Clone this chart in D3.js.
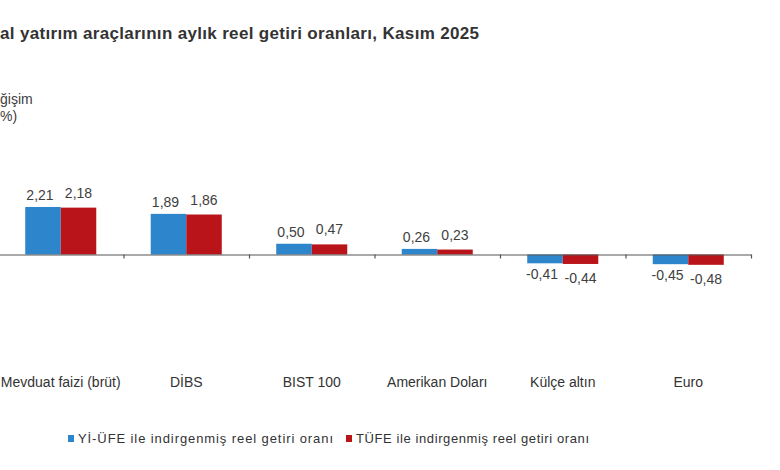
<!DOCTYPE html>
<html>
<head>
<meta charset="utf-8">
<script src="https://cdn.jsdelivr.net/npm/d3@7"></script>
<style>
  body { margin: 0; background: #fff; }
  svg { display: block; font-family: "Liberation Sans", Arial, sans-serif; }
</style>
</head>
<body>
<svg id="chart" width="780" height="470"></svg>
<script>
// data
const categories = ["Mevduat faizi (brüt)", "DİBS", "BIST 100", "Amerikan Doları", "Külçe altın", "Euro"];
const yiufe = [2.21, 1.89, 0.50, 0.26, -0.41, -0.45];
const tufe = [2.18, 1.86, 0.47, 0.23, -0.44, -0.48];
const seriesNames = ["Yİ-ÜFE ile indirgenmiş reel getiri oranı", "TÜFE ile indirgenmiş reel getiri oranı"];
const seriesColors = ["#2d86cc", "#b81419"];

const svg = d3.select("#chart");

// title, only the part that shows in the picture
svg.append("text")
    .attr("x", 0).attr("y", 39)
    .attr("font-size", 17).attr("font-weight", "bold")
    .attr("fill", "#333")
    .attr("textLength", 479)
    .text("al yatırım araçlarının aylık reel getiri oranları, Kasım 2025");

// y label (cut at the left edge too)
svg.append("text")
    .attr("x", 0).attr("y", 104)
    .attr("font-size", 14).attr("fill", "#404040")
    .text("ğişim");
svg.append("text")
    .attr("x", 0).attr("y", 121)
    .attr("font-size", 14).attr("fill", "#404040")
    .text("%)");

// scales
let x0 = d3.scaleBand()
    .domain(categories)
    .range([-2, 751])
    .paddingInner(0.434)
    .paddingOuter(0.217);

let x1 = d3.scaleBand()
    .domain([0, 1])
    .range([0, x0.bandwidth()]);

let y = d3.scaleLinear()
    .domain([-1, 2.5])
    .range([276, 200.75]);

let rows = categories.map((c, i) => ({cat: c, vals: [yiufe[i], tufe[i]]}));

// bars
let groups = svg.append("g").selectAll("g")
    .data(rows)
    .join("g")
    .attr("transform", d => `translate(${x0(d.cat)},0)`);

groups.selectAll("rect")
    .data(d => d.vals.map((v, k) => ({v: v, k: k})))
    .join("rect")
    .attr("x", d => x1(d.k))
    .attr("width", x1.bandwidth())
    .attr("y", d => y(Math.max(0, d.v)))
    .attr("height", d => Math.abs(y(d.v) - y(0)))
    .attr("fill", d => seriesColors[d.k]);

// value labels
const fmt = v => d3.format(".2f")(v).replace(".", ",").replace("−", "-");
groups.selectAll("text")
    .data(d => d.vals.map((v, k) => ({v: v, k: k})))
    .join("text")
    .attr("x", d => x1(d.k) + x1.bandwidth() / 2 + (d.k == 0 ? -3 : 0))
    .attr("y", d => d.v >= 0 ? y(d.v) - (d.k == 0 ? 7 : 10) : y(d.v) + (d.k == 0 ? 16 : 19))
    .attr("text-anchor", "middle")
    .attr("font-size", 14)
    .attr("fill", "#404040")
    .text(d => fmt(d.v));

// x axis: zero line with ticks between categories
let axis = d3.axisBottom(d3.scaleLinear().domain([0, 6]).range([-2, 751]))
    .tickValues(d3.range(1, 7))
    .tickSize(4)
    .tickSizeOuter(0)
    .tickFormat("");
let axisG = svg.append("g")
    .attr("transform", `translate(0,${y(0)})`)
    .call(axis);
axisG.selectAll("path, line").attr("stroke", "#555").attr("stroke-width", 1.2);

// category labels
svg.append("g").selectAll("text")
    .data(categories)
    .join("text")
    .attr("x", d => x0(d) + x0.bandwidth() / 2)
    .attr("y", 387)
    .attr("text-anchor", "middle")
    .attr("font-size", 14)
    .attr("fill", "#333")
    .text(d => d);

// legend
const legendX = [68, 346];
const legendW = [255, 233];
let legend = svg.append("g").selectAll("g")
    .data(seriesNames)
    .join("g")
    .attr("transform", (d, i) => `translate(${legendX[i]},435)`);
legend.append("rect")
    .attr("width", 6).attr("height", 7)
    .attr("fill", (d, i) => seriesColors[i]);
legend.append("text")
    .attr("x", 10).attr("y", 8)
    .attr("font-size", 13)
    .attr("fill", "#333")
    .attr("textLength", (d, i) => legendW[i])
    .text(d => d);
</script>
</body>
</html>
